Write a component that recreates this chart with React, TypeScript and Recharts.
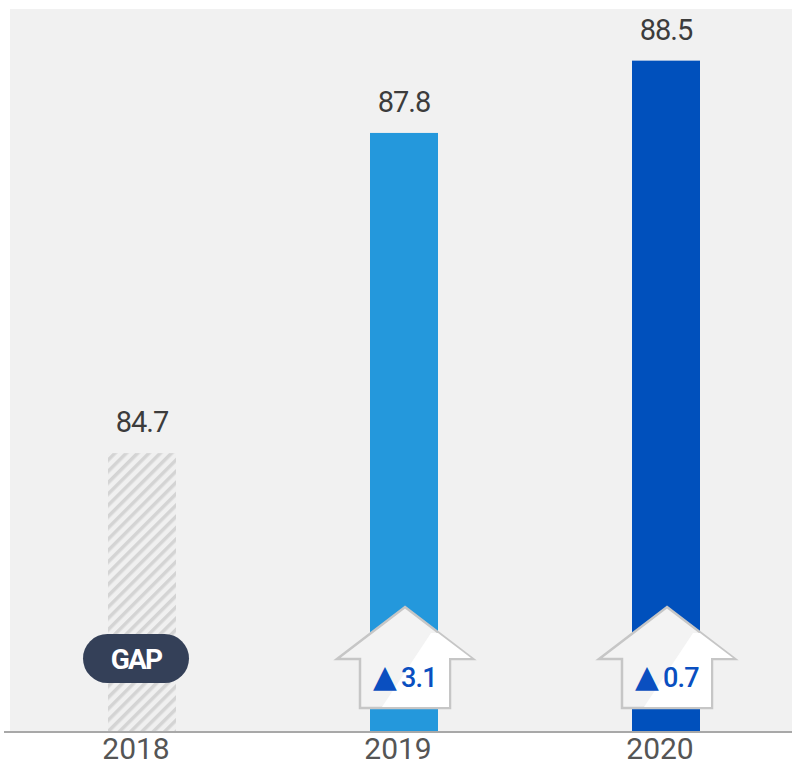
import { BarChart, Bar, XAxis, YAxis, LabelList } from "recharts";

const years = ["2018", "2019", "2020"];
const scores = [84.7, 87.8, 88.5];
const gaps = [null, 3.1, 0.7];
const barColors = ["url(#hatch)", "#2498dc", "#0050bc"];

const chartData = years.map((year, i) => ({
  year,
  score: scores[i],
  gap: gaps[i],
  fill: barColors[i],
}));

const plotBottom = 732;

// Bar plus whatever sits on top of it near the baseline: the GAP pill or the up arrow.
function BarWithBadge(props: any) {
  const { x, y, width, height, fill, payload } = props;
  const cx = x + width / 2;
  return (
    <g>
      <rect x={x} y={y} width={width} height={height} fill={fill} />
      {payload.gap === null ? <GapPill cx={cx - 6} /> : <UpArrow cx={cx + 1} gap={payload.gap} />}
    </g>
  );
}

function GapPill({ cx }: { cx: number }) {
  return (
    <g>
      <rect x={cx - 53} y={634} width={106} height={49} rx={24.5} fill="#344058" />
      <text
        x={cx}
        y={669}
        textAnchor="middle"
        fill="#ffffff"
        fontFamily="Roboto"
        fontWeight={700}
        fontSize={28}
        letterSpacing={-1.8}
      >
        GAP
      </text>
    </g>
  );
}

function UpArrow({ cx, gap }: { cx: number; gap: number }) {
  const outline = [
    [cx, 607],
    [cx + 68, 659],
    [cx + 45, 659],
    [cx + 45, 708],
    [cx - 45, 708],
    [cx - 45, 659],
    [cx - 68, 659],
  ]
    .map((p) => p.join(","))
    .join(" ");
  // lighter sheen across the lower right of the arrow
  const sheen = [
    [cx + 26, 633],
    [cx + 33, 633],
    [cx + 66, 658],
    [cx + 44, 658],
    [cx + 44, 707],
    [cx - 23, 707],
  ]
    .map((p) => p.join(","))
    .join(" ");
  return (
    <g>
      <polygon points={outline} fill="#f3f3f3" stroke="#c6c6c6" strokeWidth={2.5} strokeLinejoin="miter" />
      <polygon points={sheen} fill="#ffffff" />
      <text x={cx - 32} y={687} fill="#0a4fc0" fontFamily="Roboto" fontWeight={500} fontSize={27} letterSpacing={-0.8}>
        <tspan fontFamily="DejaVu Sans" fontSize={31}>▲</tspan>
        <tspan dx={5}>{gap.toFixed(1)}</tspan>
      </text>
    </g>
  );
}

export default function App() {
  return (
    <div style={{ position: "absolute", left: 0, top: 0, width: 794, height: 767, overflow: "hidden", background: "#ffffff" }}>
      {/* grey panel behind the plot */}
      <div style={{ position: "absolute", left: 10, top: 9, width: 782, height: 723, background: "#f1f1f1" }} />
      <BarChart
        width={794}
        height={767}
        data={chartData}
        margin={{ top: 9, right: 2, bottom: 0, left: 4 }}
        style={{ position: "absolute", left: 0, top: 0 }}
      >
        <defs>
          <pattern id="hatch" width="8" height="8" patternUnits="userSpaceOnUse" patternTransform="rotate(45)">
            <rect width="8" height="8" fill="#f0f0f0" />
            <rect width="3.5" height="8" x="0" fill="#d4d4d4" />
          </pattern>
        </defs>
        <XAxis
          dataKey="year"
          height={767 - plotBottom}
          padding={{ left: 7, right: -5 }}
          axisLine={{ stroke: "#a8a8a8", strokeWidth: 2 }}
          tickLine={false}
          tickMargin={0}
          tick={{ fill: "#555555", fontSize: 30, fontFamily: "Roboto", dx: -6, dy: 0 }}
        />
        <YAxis hide domain={[82, 89]} allowDataOverflow />
        <Bar dataKey="score" barSize={68} isAnimationActive={false} shape={BarWithBadge}>
          <LabelList
            dataKey="score"
            position="top"
            offset={21}
            fill="#3c3c3c"
            fontSize={29}
            fontFamily="Roboto"
            letterSpacing={-1}
            formatter={(v: number) => v.toFixed(1)}
          />
        </Bar>
      </BarChart>
    </div>
  );
}
